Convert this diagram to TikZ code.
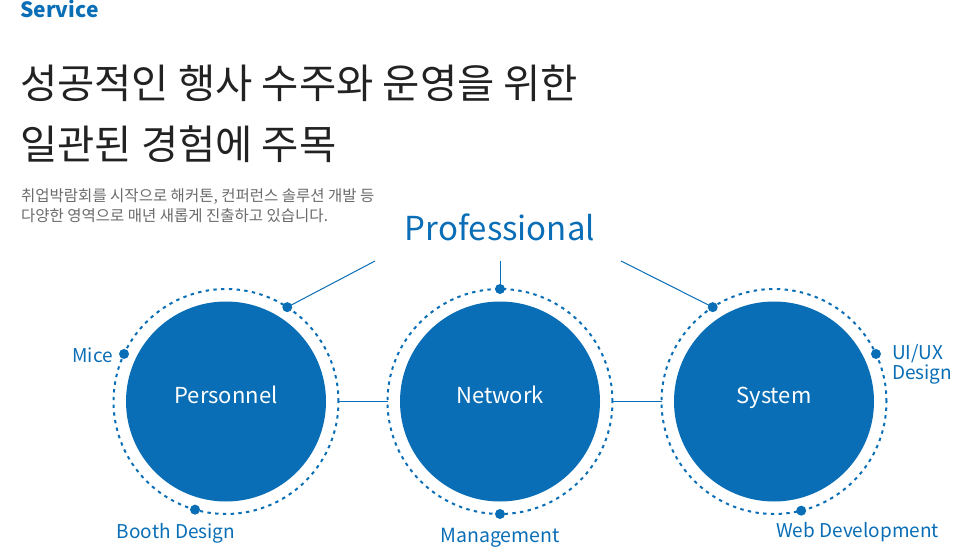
\documentclass[tikz,border=0pt]{standalone}
\usepackage{fontspec}
\setmainfont{Noto Sans CJK KR}
\definecolor{brand}{HTML}{0A6EB6}
\definecolor{titlegray}{HTML}{222222}
\definecolor{subgray}{HTML}{6A6A6A}
\begin{document}
\begin{tikzpicture}[x=1pt,y=-1pt,
  ring/.style={circle, draw=brand, line width=2pt, dash pattern=on 3.4pt off 4.35pt, minimum size=225pt, inner sep=0pt, outer sep=0pt},
  core/.style={circle, fill=brand, minimum size=200pt, inner sep=0pt, text=white, text height=10pt, text depth=7pt, font=\fontsize{22}{26}\selectfont},
  dot/.style={circle, fill=brand, minimum size=10pt, inner sep=0pt, outer sep=0pt},
  lab/.style={text=brand, inner sep=0pt, font=\fontsize{19}{17}\selectfont},
  link/.style={draw=brand, line width=1pt}]
\useasboundingbox (0,0) rectangle (956,548);
% header texts
\node[anchor=base west, inner sep=0pt, text=brand, font=\bfseries\fontsize{21}{24}\selectfont] (svc) at (20,18) {Service};
\node[anchor=base west, inner sep=0pt, align=left, text=titlegray, font=\fontsize{40.5}{61}\selectfont] (title) at (20,160) {성공적인 행사 수주와 운영을 위한\\일관된 경험에 주목};
\node[anchor=base west, inner sep=0pt, align=left, text=subgray, font=\fontsize{15.5}{20.5}\selectfont] (sub) at (21,222) {취업박람회를 시작으로 해커톤, 컨퍼런스 솔루션 개발 등\\다양한 영역으로 매년 새롭게 진출하고 있습니다.};
\node[anchor=base, inner sep=0pt, text=brand, font=\fontsize{33}{36}\selectfont] (prof) at (500,241) {Professional};
% circles
\node[core] (P) at (226,401.5) {Personnel};
\node[core] (N) at (500,401.5) {Network};
\node[core] (S) at (774,401.5) {System};
\node[ring] (pr) at (P) {};
\node[ring] (nr) at (N) {};
\node[ring] (sr) at (S) {};
% connectors between rings
\draw[link] (pr.east) -- (nr.west);
\draw[link] (nr.east) -- (sr.west);
% dots
\node[dot] (pd1) at (pr.57.7) {};
\node[dot] (pd2) at (pr.155.3) {};
\node[dot] (pd3) at (pr.254.9) {};
\node[dot] (nd1) at (nr.90) {};
\node[dot] (nd2) at (nr.270) {};
\node[dot] (sd1) at (sr.123.6) {};
\node[dot] (sd2) at (sr.25) {};
\node[dot] (sd3) at (sr.-76) {};
% lines to Professional
\coordinate (pl) at (375,261);
\coordinate (pm) at (500,261);
\coordinate (pq) at (621,261);
\draw[link] (pl) -- (pd1.center);
\draw[link] (pm) -- (nd1.center);
\draw[link] (pq) -- (sd1.center);
% labels
\node[lab, anchor=base east] (mice) at (113,362) {Mice};
\node[lab, anchor=base] (booth) at (176,538) {Booth Design};
\node[lab, anchor=base, font=\fontsize{19.5}{17}\selectfont] (mgmt) at (500,542) {Management};
\node[lab, anchor=base west] (web) at (776,537) {Web Development};
\node[lab, anchor=base west, align=left] (uiux) at (892,379) {UI/UX\\Design};
\end{tikzpicture}
\end{document}
